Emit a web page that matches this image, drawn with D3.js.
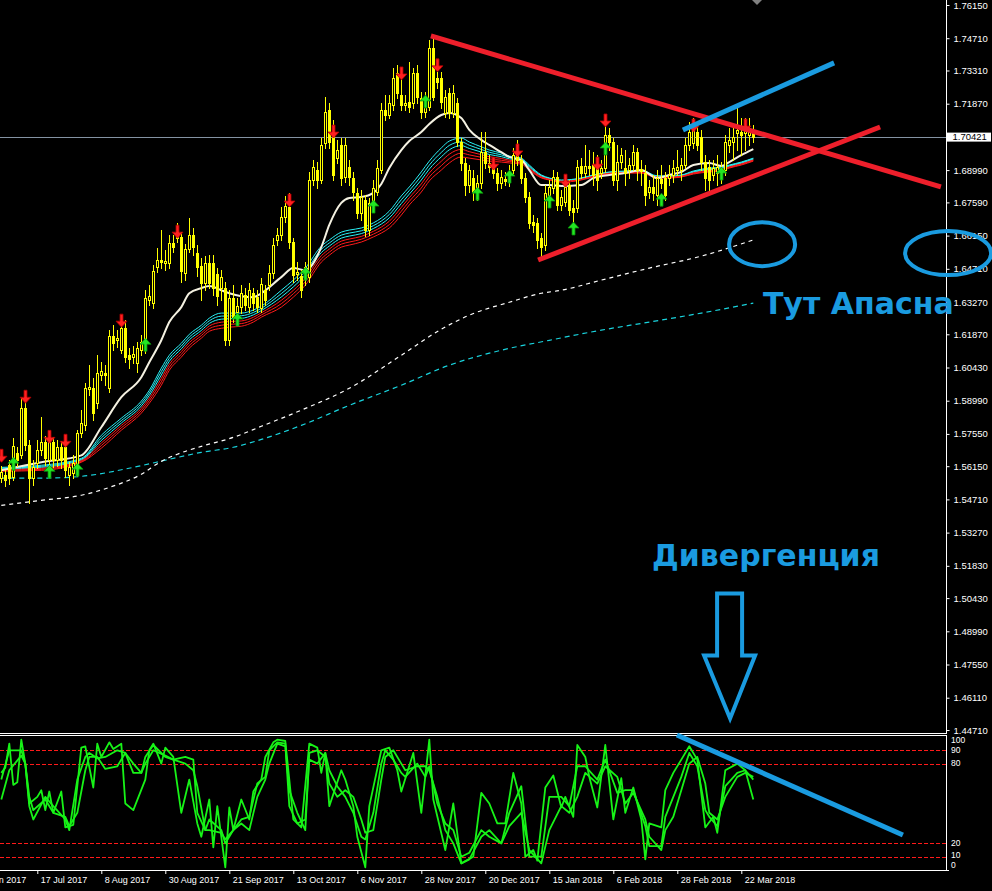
<!DOCTYPE html>
<html><head><meta charset="utf-8">
<script src="https://cdn.jsdelivr.net/npm/d3@7"></script>
<style>html,body{margin:0;padding:0;background:#000;overflow:hidden}</style>
</head><body>
<svg id="c" width="992" height="891"></svg>
<script>
// ---------- DATA ----------
// daily candles [open, high, low, close], bar index 0..188
const ohlc = [
[1.5563,1.5615,1.5545,1.5589],[1.5576,1.5597,1.5528,1.5554],[1.5619,1.5641,1.5537,1.5563],[1.5567,1.5736,1.5554,1.5701],[1.5671,1.5697,1.5615,1.5641],
[1.5662,1.5910,1.5649,1.5866],[1.5866,1.5923,1.5684,1.5706],[1.5706,1.5727,1.5454,1.5563],[1.5563,1.5641,1.5532,1.5610],[1.5628,1.5727,1.5606,1.5684],
[1.5684,1.5827,1.5662,1.5719],[1.5719,1.5745,1.5619,1.5649],[1.5641,1.5749,1.5623,1.5719],[1.5719,1.5740,1.5610,1.5641],[1.5641,1.5727,1.5615,1.5697],
[1.5697,1.5723,1.5606,1.5641],[1.5697,1.5714,1.5567,1.5597],[1.5576,1.5632,1.5532,1.5610],[1.5584,1.5662,1.5563,1.5628],[1.5584,1.5771,1.5571,1.5758],
[1.5758,1.5858,1.5740,1.5801],[1.5792,1.5975,1.5771,1.5953],[1.5949,1.6053,1.5923,1.5957],[1.5953,1.5997,1.5814,1.5845],[1.5888,1.6096,1.5866,1.6018],
[1.6010,1.6066,1.5988,1.6027],[1.6018,1.6053,1.5966,1.6010],[1.5953,1.6205,1.5936,1.6179],[1.6179,1.6226,1.6118,1.6148],[1.6161,1.6205,1.6131,1.6170],
[1.6118,1.6266,1.6105,1.6213],[1.6213,1.6248,1.6066,1.6088],[1.6096,1.6127,1.6040,1.6079],[1.6088,1.6136,1.6062,1.6101],[1.6062,1.6153,1.6023,1.6127],
[1.6118,1.6183,1.6096,1.6153],[1.6118,1.6378,1.6105,1.6344],[1.6335,1.6400,1.6313,1.6352],[1.6322,1.6487,1.6300,1.6461],[1.6478,1.6561,1.6457,1.6509],
[1.6509,1.6639,1.6474,1.6500],[1.6496,1.6552,1.6465,1.6504],[1.6496,1.6617,1.6474,1.6583],[1.6583,1.6617,1.6543,1.6565],[1.6604,1.6670,1.6587,1.6626],
[1.6609,1.6630,1.6413,1.6461],[1.6452,1.6578,1.6422,1.6556],[1.6556,1.6692,1.6543,1.6617],[1.6617,1.6648,1.6530,1.6565],[1.6539,1.6574,1.6439,1.6478],
[1.6483,1.6517,1.6335,1.6409],[1.6409,1.6526,1.6378,1.6496],[1.6496,1.6530,1.6387,1.6409],[1.6496,1.6530,1.6357,1.6387],[1.6448,1.6474,1.6313,1.6352],
[1.6387,1.6465,1.6335,1.6435],[1.6387,1.6413,1.6140,1.6161],[1.6161,1.6378,1.6140,1.6344],[1.6344,1.6400,1.6240,1.6261],[1.6283,1.6344,1.6248,1.6309],
[1.6305,1.6400,1.6279,1.6365],[1.6357,1.6387,1.6292,1.6313],[1.6305,1.6409,1.6283,1.6378],[1.6365,1.6387,1.6292,1.6322],[1.6348,1.6378,1.6283,1.6305],
[1.6300,1.6431,1.6283,1.6404],[1.6378,1.6400,1.6313,1.6335],[1.6400,1.6487,1.6378,1.6452],[1.6452,1.6604,1.6431,1.6574],[1.6596,1.6648,1.6574,1.6617],
[1.6617,1.6739,1.6596,1.6696],[1.6696,1.6787,1.6674,1.6744],[1.6739,1.6800,1.6561,1.6587],[1.6587,1.6604,1.6413,1.6444],[1.6448,1.6500,1.6422,1.6457],
[1.6439,1.6465,1.6348,1.6378],[1.6435,1.6500,1.6400,1.6478],[1.6435,1.6891,1.6413,1.6856],[1.6856,1.6943,1.6835,1.6913],[1.6900,1.6934,1.6822,1.6856],
[1.6856,1.7039,1.6843,1.7008],[1.7017,1.7216,1.6995,1.7151],[1.7160,1.7190,1.6995,1.7021],[1.7086,1.7117,1.6856,1.6878],[1.6952,1.7030,1.6930,1.6986],
[1.7008,1.7039,1.6835,1.6865],[1.6869,1.7039,1.6848,1.7008],[1.6913,1.6943,1.6835,1.6869],[1.6865,1.6891,1.6769,1.6804],[1.6800,1.6821,1.6691,1.6713],
[1.6713,1.6813,1.6683,1.6782],[1.6769,1.6791,1.6613,1.6639],[1.6639,1.6778,1.6617,1.6757],[1.6757,1.6856,1.6726,1.6822],[1.6804,1.6943,1.6791,1.6908],
[1.6900,1.7190,1.6887,1.7160],[1.7160,1.7225,1.7116,1.7138],[1.7138,1.7225,1.7125,1.7190],[1.7182,1.7342,1.7160,1.7299],[1.7320,1.7355,1.7212,1.7234],
[1.7225,1.7312,1.7160,1.7182],[1.7182,1.7225,1.7160,1.7190],[1.7195,1.7368,1.7151,1.7173],[1.7190,1.7342,1.7169,1.7320],[1.7320,1.7355,1.7190,1.7216],
[1.7212,1.7238,1.7125,1.7151],[1.7151,1.7238,1.7129,1.7212],[1.7173,1.7463,1.7160,1.7429],[1.7429,1.7476,1.7203,1.7216],[1.7299,1.7325,1.7255,1.7281],
[1.7299,1.7325,1.7169,1.7195],[1.7147,1.7247,1.7129,1.7216],[1.7234,1.7255,1.7125,1.7147],[1.7147,1.7268,1.7129,1.7234],[1.7190,1.7212,1.7003,1.7021],
[1.7021,1.7039,1.6899,1.6930],[1.6930,1.6951,1.6791,1.6835],[1.6835,1.6921,1.6804,1.6899],[1.6865,1.6899,1.6769,1.6804],[1.6804,1.6878,1.6769,1.6843],
[1.6843,1.7064,1.6821,1.6977],[1.6977,1.7064,1.6908,1.6930],[1.6930,1.6964,1.6891,1.6912],[1.6921,1.6951,1.6864,1.6886],[1.6886,1.6908,1.6812,1.6843],
[1.6843,1.6899,1.6821,1.6869],[1.6860,1.6891,1.6834,1.6851],[1.6856,1.6921,1.6830,1.6891],[1.6899,1.6995,1.6882,1.6964],[1.6964,1.7029,1.6921,1.6943],
[1.6943,1.6964,1.6843,1.6864],[1.6864,1.6886,1.6760,1.6782],[1.6782,1.6804,1.6647,1.6669],[1.6674,1.6704,1.6630,1.6661],[1.6669,1.6691,1.6561,1.6595],
[1.6604,1.6626,1.6522,1.6565],[1.6574,1.6834,1.6552,1.6799],[1.6791,1.6856,1.6769,1.6825],[1.6821,1.6899,1.6799,1.6869],[1.6869,1.6891,1.6726,1.6747],
[1.6747,1.6812,1.6726,1.6782],[1.6760,1.6856,1.6743,1.6825],[1.6834,1.6856,1.6704,1.6726],[1.6734,1.6769,1.6674,1.6717],[1.6734,1.6943,1.6717,1.6912],
[1.6917,1.6951,1.6864,1.6886],[1.6886,1.7008,1.6869,1.6917],[1.6917,1.6986,1.6878,1.6908],[1.6921,1.6977,1.6834,1.6878],[1.6912,1.6964,1.6812,1.6856],
[1.6886,1.6943,1.6864,1.6908],[1.6908,1.7138,1.6891,1.7051],[1.7051,1.7081,1.6986,1.7021],[1.7021,1.7038,1.6834,1.6856],[1.6856,1.7008,1.6812,1.6934],
[1.6934,1.6995,1.6908,1.6964],[1.6908,1.6986,1.6834,1.6886],[1.6899,1.6951,1.6864,1.6921],[1.6921,1.7008,1.6899,1.6977],[1.6977,1.6995,1.6856,1.6899],
[1.6904,1.6943,1.6834,1.6895],[1.6886,1.6921,1.6747,1.6791],[1.6804,1.6856,1.6778,1.6825],[1.6825,1.6878,1.6769,1.6799],[1.6791,1.6899,1.6747,1.6864],
[1.6860,1.6921,1.6821,1.6843],[1.6864,1.6891,1.6769,1.6791],[1.6864,1.6921,1.6834,1.6878],[1.6878,1.6943,1.6847,1.6908],[1.6899,1.6986,1.6878,1.6912],
[1.6899,1.6951,1.6856,1.6921],[1.6921,1.7038,1.6908,1.7008],[1.7008,1.7108,1.6986,1.7064],[1.7016,1.7125,1.6995,1.7081],[1.7064,1.7095,1.6986,1.7008],
[1.7042,1.7073,1.6899,1.6934],[1.6934,1.6964,1.6812,1.6864],[1.6912,1.6943,1.6812,1.6856],[1.6878,1.6943,1.6856,1.6908],[1.6886,1.6964,1.6834,1.6912],
[1.6908,1.6934,1.6843,1.6869],[1.6899,1.7051,1.6878,1.7021],[1.7008,1.7081,1.6977,1.7029],[1.7021,1.7095,1.6943,1.7042],[1.7060,1.7168,1.6986,1.7073],
[1.7064,1.7125,1.6964,1.7051],[1.7060,1.7125,1.6986,1.7073],[1.7051,1.7125,1.7008,1.7064],[1.7064,1.7095,1.7021,1.7042]
];
const lastPrice = 1.70421;

// moving averages: [barIndex, price]
const maWhite = [[0,1.5597],[10,1.5632],[20,1.5662],[25,1.5784],[30,1.5914],[35,1.6001],[37,1.6066],[40,1.6161],[42,1.6240],[45,1.6305],[47,1.6365],[50,1.6387],[52,1.6396],[55,1.6378],[57,1.6365],[60,1.6352],[63,1.6348],[65,1.6365],[70,1.6435],[73,1.6474],[76,1.6465],[80,1.6565],[82,1.6661],[85,1.6757],[87,1.6778],[90,1.6782],[93,1.6800],[95,1.6839],[97,1.6908],[100,1.6986],[102,1.7025],[105,1.7064],[107,1.7099],[110,1.7138],[112,1.7147],[115,1.7125],[117,1.7073],[120,1.7030],[122,1.7008],[125,1.6977],[127,1.6956],[130,1.6943],[132,1.6899],[135,1.6834],[137,1.6834],[140,1.6830],[145,1.6834],[148,1.6864],[152,1.6878],[156,1.6886],[160,1.6899],[164,1.6864],[167,1.6878],[170,1.6891],[173,1.6921],[177,1.6930],[180,1.6917],[182,1.6934],[185,1.6964],[188,1.6990]];
const emaIdx = [0,10,20,25,30,35,37,40,42,45,47,50,52,55,57,60,63,65,70,73,76,80,82,85,87,90,93,95,97,100,102,105,107,110,112,115,117,120,122,125,127,130,132,135,137,140,145,148,152,156,160,164,167,170,173,177,180,182,185,188];
const emaCyan = [1.5610,1.5619,1.5649,1.5749,1.5823,1.5897,1.5944,1.6040,1.6096,1.6148,1.6187,1.6226,1.6257,1.6279,1.6279,1.6279,1.6292,1.6309,1.6378,1.6422,1.6474,1.6569,1.6596,1.6630,1.6639,1.6648,1.6670,1.6691,1.6721,1.6787,1.6826,1.6891,1.6938,1.6995,1.7025,1.7038,1.7021,1.7000,1.6986,1.6973,1.6960,1.6951,1.6921,1.6878,1.6865,1.6856,1.6865,1.6878,1.6891,1.6895,1.6899,1.6874,1.6874,1.6878,1.6895,1.6908,1.6912,1.6921,1.6934,1.6951];
const emaRed = [1.5593,1.5597,1.5632,1.5693,1.5771,1.5845,1.5888,1.5966,1.6031,1.6088,1.6127,1.6170,1.6200,1.6213,1.6218,1.6222,1.6240,1.6261,1.6305,1.6348,1.6400,1.6500,1.6530,1.6565,1.6574,1.6587,1.6609,1.6626,1.6648,1.6704,1.6748,1.6804,1.6852,1.6899,1.6930,1.6956,1.6951,1.6943,1.6938,1.6934,1.6930,1.6925,1.6899,1.6865,1.6856,1.6847,1.6856,1.6869,1.6882,1.6886,1.6886,1.6865,1.6865,1.6869,1.6882,1.6891,1.6895,1.6908,1.6921,1.6938];
const maSlowWhite = [[0,1.5445],[10,1.5467],[20,1.5489],[27,1.5523],[35,1.5580],[40,1.5636],[44,1.5667],[50,1.5701],[58,1.5740],[65,1.5788],[75,1.5858],[87,1.5953],[100,1.6096],[110,1.6209],[117,1.6270],[127,1.6326],[135,1.6365],[140,1.6378],[150,1.6422],[162,1.6474],[175,1.6526],[188,1.6596]];
const maSlowCyan = [[0,1.5563],[10,1.5563],[20,1.5571],[33,1.5610],[42,1.5645],[50,1.5675],[58,1.5697],[65,1.5731],[75,1.5792],[87,1.5879],[100,1.5966],[112,1.6053],[125,1.6118],[137,1.6161],[150,1.6205],[162,1.6240],[175,1.6279],[188,1.6322]];

// fractal-style arrows: [barIndex, price of arrow tip]
const arrowsDown = [[0,1.5632],[6,1.5888],[12,1.5714],[16,1.5697],[30,1.6218],[44,1.6604],[72,1.6739],[83,1.7038],[100,1.7290],[109,1.7325],[123,1.6899],[129,1.6956],[141,1.6825],[149,1.6899],[151,1.7086],[173,1.7064],[186,1.7064]];
const arrowsUp = [[3,1.5654],[12,1.5619],[19,1.5628],[36,1.6170],[59,1.6279],[76,1.6478],[93,1.6769],[106,1.7225],[119,1.6825],[127,1.6899],[137,1.6791],[143,1.6674],[151,1.7021],[165,1.6799],[180,1.6912]];

// stochastic lines: [barIndex, value]
const stochK = [[0,73],[1,77],[2,95],[3,64],[4,66],[5,98],[6,80],[7,50],[9,55],[10,60],[11,45],[12,59],[13,43],[15,59],[16,32],[18,34],[20,92],[21,93],[23,62],[24,95],[25,85],[27,96],[28,91],[30,95],[31,50],[33,45],[36,68],[37,90],[38,95],[40,80],[41,92],[43,85],[45,43],[47,68],[49,35],[50,25],[52,53],[53,17],[54,48],[56,2],[57,47],[58,30],[60,53],[62,38],[63,59],[65,68],[66,85],[68,96],[69,98],[71,97],[72,68],[73,38],[75,32],[77,95],[79,92],[80,73],[81,88],[82,48],[85,75],[86,68],[88,48],[89,25],[91,2],[92,48],[95,90],[97,92],[99,75],[100,59],[103,88],[105,43],[107,98],[108,53],[111,15],[113,50],[115,5],[118,10],[120,58],[122,50],[124,35],[126,35],[128,73],[130,50],[131,10],[133,15],[134,7],[136,62],[138,71],[140,47],[141,55],[143,40],[144,94],[146,85],[147,70],[149,47],[151,94],[153,38],[155,69],[156,43],[158,62],[160,38],[161,8],[162,35],[165,32],[166,60],[168,73],[170,83],[172,93],[174,83],[176,32],[178,40],[179,28],[181,75],[184,80],[186,75],[188,53]];
const stochD1 = [[0,68],[2,90],[5,90],[6,80],[7,48],[8,38],[11,55],[13,48],[16,38],[17,30],[19,68],[21,85],[22,88],[24,84],[26,85],[29,90],[31,88],[33,73],[35,73],[36,85],[38,94],[41,85],[43,83],[46,85],[48,83],[49,43],[51,30],[52,38],[55,30],[56,20],[58,30],[60,38],[62,40],[64,65],[66,70],[67,90],[69,96],[71,95],[72,48],[74,35],[76,38],[77,83],[79,80],[81,88],[82,75],[84,63],[86,55],[88,43],[90,25],[91,23],[93,43],[95,80],[96,90],[98,83],[100,73],[101,70],[104,80],[106,70],[107,78],[109,50],[111,35],[113,30],[115,10],[117,13],[120,30],[122,25],[125,20],[127,43],[130,63],[132,10],[135,10],[137,55],[140,55],[142,48],[144,78],[146,78],[149,68],[151,83],[154,58],[156,60],[158,60],[161,33],[162,18],[165,18],[166,40],[168,55],[170,70],[172,88],[174,78],[176,45],[177,40],[179,33],[181,63],[184,73],[186,75],[188,68]];
const stochD2 = [[0,53],[2,75],[5,86],[6,80],[7,55],[8,45],[11,53],[13,43],[16,40],[17,33],[19,43],[21,75],[22,85],[24,85],[26,76],[29,78],[31,88],[33,80],[35,73],[36,80],[38,90],[41,86],[43,83],[46,80],[48,75],[49,63],[51,30],[52,30],[55,28],[56,23],[58,30],[60,35],[62,30],[64,55],[66,68],[67,80],[69,95],[71,93],[72,60],[74,43],[76,30],[77,88],[79,90],[81,85],[82,65],[84,55],[86,60],[88,55],[90,38],[91,28],[93,30],[95,68],[96,85],[98,90],[100,80],[101,75],[104,78],[106,78],[107,75],[109,55],[111,30],[113,20],[115,5],[117,8],[120,25],[122,30],[125,20],[127,33],[130,43],[132,15],[135,5],[137,30],[140,48],[142,43],[144,55],[146,73],[149,65],[151,78],[154,70],[156,50],[158,58],[161,38],[162,25],[165,15],[166,30],[168,40],[170,60],[172,80],[174,85],[176,65],[177,43],[179,38],[181,55],[184,70],[186,73],[188,70]];
const stochLevels = [10, 20, 80, 90];
const stochLabels = [100, 90, 80, 20, 10, 0];

// axes
const priceTicks = [1.76150,1.74710,1.73310,1.71870,1.68990,1.67590,1.66150,1.64710,1.63270,1.61870,1.60430,1.58990,1.57550,1.56150,1.54710,1.53270,1.51830,1.50430,1.48990,1.47550,1.46110,1.44710];
const dateTickIdx = [-7,9,25,41,57,73,89,105,121,137,153,169,185];
const dateTickLabels = ["23 Jun 2017","17 Jul 2017","8 Aug 2017","30 Aug 2017","21 Sep 2017","13 Oct 2017","6 Nov 2017","28 Nov 2017","20 Dec 2017","15 Jan 2018","6 Feb 2018","28 Feb 2018","22 Mar 2018"];

// hand-drawn objects: [barIndex, price] anchors
const redLine1 = [[107.4,1.7481],[234.9,1.6826]];
const redLine2 = [[134.2,1.6509],[219.7,1.7086]];
const blueLine = [[170.4,1.7073],[208.2,1.7364]];
const ellipses = [[190.2,1.6578],[236.7,1.6539]];
const stochBlueLine = [[168.9,101.5],[225.4,26.3]];
const labels = [["Тут Апасна",190.4,1.6275],["Дивергенция",162.7,1.5181]];
const bigArrowTip = [182.2,1.4521];

// ---------- DRAW ----------
const W=992,H=891, R=946.5, MB=733, IT=736, IB=870;
const svg=d3.select('#c');
svg.append('rect').attr('width',W).attr('height',H).attr('fill','#000');
const x=d3.scaleLinear().domain([0,188]).range([1.3,753.3]);
const y=d3.scaleLinear().domain([1.4471,1.7615]).range([730,5]);
const ys=d3.scaleLinear().domain([0,100]).range([870,737]);

const defs=svg.append('defs');
defs.append('clipPath').attr('id','cm').append('rect').attr('x',0).attr('y',0).attr('width',R).attr('height',MB);
defs.append('clipPath').attr('id','ci').append('rect').attr('x',0).attr('y',IT).attr('width',R).attr('height',IB-IT);

const main=svg.append('g').attr('clip-path','url(#cm)');

// current price line
main.append('line').attr('x1',0).attr('x2',R).attr('y1',Math.round(y(lastPrice))+0.5).attr('y2',Math.round(y(lastPrice))+0.5)
  .attr('stroke','#8493a3').attr('stroke-width',1);

// slow dashed MAs
const ln=d3.line().x(d=>x(d[0])).y(d=>y(d[1])).curve(d3.curveMonotoneX);
main.append('path').attr('d',ln(maSlowCyan)).attr('fill','none').attr('stroke','#19d3dd').attr('stroke-width',1.2).attr('stroke-dasharray','5,4');
main.append('path').attr('d',ln(maSlowWhite)).attr('fill','none').attr('stroke','#ffffff').attr('stroke-width',1.2).attr('stroke-dasharray','4,4');

// ribbon: 3 cyan + 3 red strands between emaCyan and emaRed
for(let k=0;k<6;k++){
  const pts=emaIdx.map((i,j)=>[x(i), y(emaCyan[j]) + (y(emaRed[j])-y(emaCyan[j]))*k/5]);
  main.append('path').attr('d',d3.line().curve(d3.curveMonotoneX)(pts)).attr('fill','none')
    .attr('stroke',k<3?'#2af0f5':'#ff1a1a').attr('stroke-width',1);
}
// white MA
main.append('path').attr('d',ln(maWhite)).attr('fill','none').attr('stroke','#f4f1e1').attr('stroke-width',2);

// candles
const cg=main.append('g').attr('shape-rendering','crispEdges');
ohlc.forEach((d,i)=>{
  const [o,h,l,c]=d; const xc=Math.round(x(i));
  cg.append('line').attr('x1',xc+0.5).attr('x2',xc+0.5).attr('y1',Math.round(y(h))).attr('y2',Math.round(y(l))+1).attr('stroke','#ffff00');
  const top=Math.round(y(Math.max(o,c))), bot=Math.round(y(Math.min(o,c)));
  if(c>o){
    cg.append('rect').attr('x',xc-0.5).attr('y',top+0.5).attr('width',2).attr('height',Math.max(0,bot-top))
      .attr('fill','#000').attr('stroke','#ffff00').attr('stroke-width',1);
  } else {
    cg.append('rect').attr('x',xc-1).attr('y',top).attr('width',3).attr('height',Math.max(1,bot-top+1)).attr('fill','#ffff00');
  }
});

// arrows
arrowsDown.forEach(([i,p])=>{
  const cx=Math.round(x(i))+0.5, t=y(p);
  main.append('path').attr('d',`M${cx-1.5},${t-13}h3v7h4l-5.5,6l-5.5,-6h4z`).attr('fill','#ff2020').attr('stroke','#b30000').attr('stroke-width',0.8);
});
arrowsUp.forEach(([i,p])=>{
  const cx=Math.round(x(i))+0.5, t=y(p);
  main.append('path').attr('d',`M${cx-1.5},${t+13}h3v-7h4l-5.5,-6l-5.5,6h4z`).attr('fill','#22e622').attr('stroke','#0a8f0a').attr('stroke-width',0.8);
});

// ---------- indicator ----------
const ind=svg.append('g').attr('clip-path','url(#ci)');
stochLevels.forEach(v=>{
  ind.append('line').attr('x1',0).attr('x2',R).attr('y1',Math.round(ys(v))+0.5).attr('y2',Math.round(ys(v))+0.5)
   .attr('stroke','#ff1a1a').attr('stroke-width',1).attr('stroke-dasharray','4,2');
});
const sl=d3.line().x(d=>x(d[0])).y(d=>ys(d[1]));
[stochD2,stochD1,stochK].forEach(s=>{
  ind.append('path').attr('d',sl(s)).attr('fill','none').attr('stroke','#17f317').attr('stroke-width',1.8).attr('stroke-linejoin','round');
});

// ---------- frame & axes ----------
const fr=svg.append('g').attr('stroke','#fff').attr('stroke-width',1).attr('shape-rendering','crispEdges');
fr.append('line').attr('x1',R).attr('x2',R).attr('y1',0).attr('y2',MB+1);
fr.append('line').attr('x1',0).attr('x2',R+0.5).attr('y1',MB+0.5).attr('y2',MB+0.5);
fr.append('line').attr('x1',0).attr('x2',R+0.5).attr('y1',735.5).attr('y2',735.5);
fr.append('line').attr('x1',R).attr('x2',R).attr('y1',735).attr('y2',IB+1);
fr.append('line').attr('x1',0).attr('x2',R+2).attr('y1',IB+0.5).attr('y2',IB+0.5);

const axR=d3.axisRight(y).tickValues(priceTicks).tickFormat(d3.format('.5f')).tickSize(3).tickPadding(4);
const gR=svg.append('g').attr('transform',`translate(${R},0)`).call(axR);
gR.select('.domain').remove();
gR.selectAll('line').attr('stroke','#fff');
gR.selectAll('text').attr('fill','#fff').style('font-family','Liberation Sans, Arial, sans-serif').style('font-size','9.5px');

// current price tag
const yp=y(lastPrice);
svg.append('rect').attr('x',R+0.5).attr('y',yp-4.5).attr('width',44).attr('height',9).attr('fill','#fff');
svg.append('text').attr('x',R+6).attr('y',yp).attr('dy','0.35em').text(lastPrice.toFixed(5))
  .attr('fill','#000').style('font-family','Liberation Sans, Arial, sans-serif').style('font-size','9.5px');

// stoch labels (100/90 and 10/0 pushed slightly apart so they stay legible)
const stochLabelY = {100:740.5, 90:750.5, 80:763.3, 20:843.3, 10:855.5, 0:865};
stochLabels.forEach(v=>{
  svg.append('text').attr('x',R+4.5).attr('y',stochLabelY[v]).attr('dy','0.35em').text(v)
   .attr('fill','#fff').style('font-family','Liberation Sans, Arial, sans-serif').style('font-size','8.5px');
});

// date axis
const axB=d3.axisBottom(x).tickValues(dateTickIdx).tickFormat((d,i)=>dateTickLabels[i]).tickSize(4).tickPadding(3);
const gB=svg.append('g').attr('transform',`translate(0,${IB})`).call(axB);
gB.select('.domain').remove();
gB.selectAll('line').attr('stroke','#fff');
gB.selectAll('text').attr('fill','#fff').attr('text-anchor','start').attr('dx','3')
  .style('font-family','Liberation Sans, Arial, sans-serif').style('font-size','9px');

// top scroll marker
svg.append('path').attr('d','M752,0h10l-5,5z').attr('fill','#808080');

// ---------- annotations ----------
const an=svg.append('g');
const lp=d=>[x(d[0]),y(d[1])];
[redLine1,redLine2].forEach(L=>{
  const a=lp(L[0]),b=lp(L[1]);
  an.append('line').attr('x1',a[0]).attr('y1',a[1]).attr('x2',b[0]).attr('y2',b[1]).attr('stroke','#ee1f2b').attr('stroke-width',5);
});
{const a=lp(blueLine[0]),b=lp(blueLine[1]);
 an.append('line').attr('x1',a[0]).attr('y1',a[1]).attr('x2',b[0]).attr('y2',b[1]).attr('stroke','#1a9be0').attr('stroke-width',5);}
const er=[[33,22],[43,22]];
ellipses.forEach((e,k)=>{
  an.append('ellipse').attr('cx',x(e[0])).attr('cy',y(e[1])).attr('rx',er[k][0]).attr('ry',er[k][1])
   .attr('fill','none').attr('stroke','#1a9be0').attr('stroke-width',4);
});
{const a=[x(stochBlueLine[0][0]),ys(stochBlueLine[0][1])],b=[x(stochBlueLine[1][0]),ys(stochBlueLine[1][1])];
 an.append('line').attr('x1',a[0]).attr('y1',a[1]).attr('x2',b[0]).attr('y2',b[1]).attr('stroke','#1a9be0').attr('stroke-width',5);}
labels.forEach(t=>{
  an.append('text').attr('x',x(t[1])).attr('y',y(t[2])).text(t[0]).attr('fill','#1a9be0')
   .style('font-family','DejaVu Sans, Verdana, sans-serif').style('font-weight','bold').style('font-size','30px');
});
{const tx=x(bigArrowTip[0]), ty=y(bigArrowTip[1]);
 an.append('path').attr('d',`M${tx-13},${ty-125}H${tx+12}V${ty-63}H${tx+25}L${tx},${ty}L${tx-26},${ty-63}H${tx-13}Z`)
  .attr('fill','none').attr('stroke','#1a9be0').attr('stroke-width',4).attr('stroke-linejoin','miter');}
</script>
</body></html>
